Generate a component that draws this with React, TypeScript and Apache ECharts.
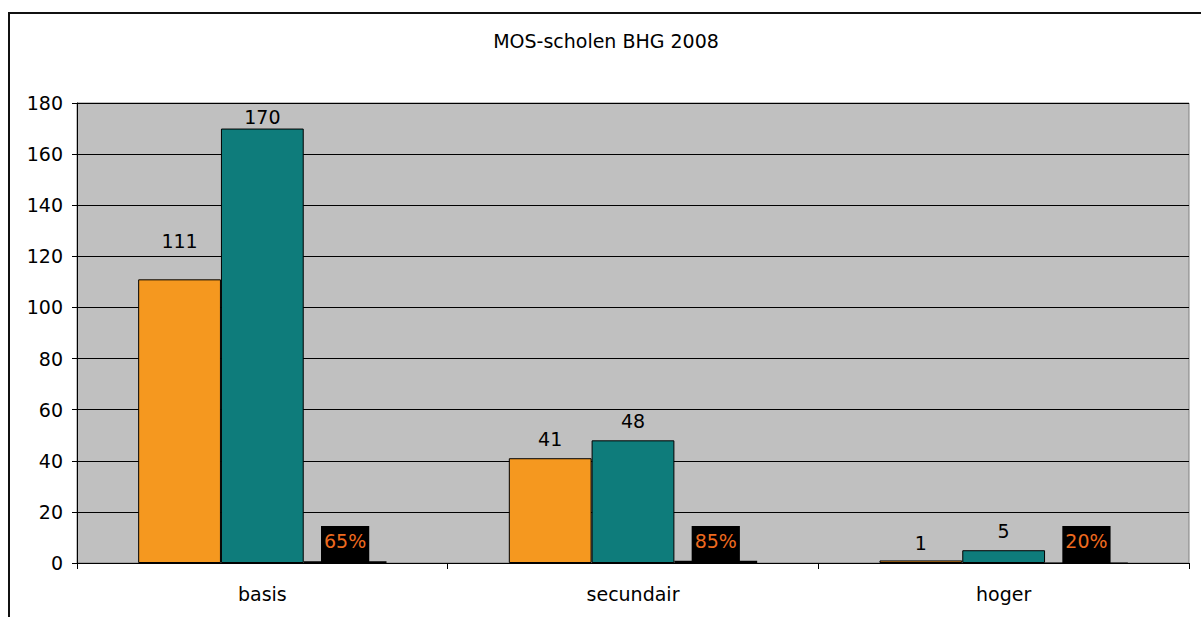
import React, { useEffect, useRef } from "react";
import * as echarts from "echarts";

const categories = ["basis", "secundair", "hoger"];
const orangeValues = [111, 41, 1];
const tealValues = [170, 48, 5];
const shareValues = [0.65, 0.85, 0.2];
const yTicks = { min: 0, max: 180, interval: 20 };
const titleText = "MOS-scholen BHG 2008";

// label distances above bars (styling, not data)
const orangeLabelGap = [29, 10, 8];
const tealLabelGap = [2, 10, 10];

const FONT = "DejaVu Sans";
const FS = 19;

export default function App() {
  const ref = useRef<HTMLDivElement>(null);
  useEffect(() => {
    document.body.style.margin = "0";
    if (!ref.current) return;
    const chart = echarts.init(ref.current, undefined, { renderer: "svg" });
    const labelBase = {
      show: true,
      position: "top",
      color: "#000",
      fontFamily: FONT,
      fontSize: FS,
    };
    chart.setOption({
      animation: false,
      backgroundColor: "#fff",
      textStyle: { fontFamily: FONT },
      title: {
        text: titleText,
        left: 606,
        textAlign: "center",
        top: 31,
        padding: 0,
        textStyle: { fontFamily: FONT, fontSize: FS, fontWeight: "normal", color: "#000" },
      },
      graphic: [
        {
          type: "rect",
          shape: { x: 9, y: 13, width: 1260, height: 700 },
          style: { fill: "none", stroke: "#111", lineWidth: 2 },
          silent: true,
        },
      ],
      grid: {
        left: 77,
        top: 103,
        right: 12,
        bottom: 54,
        show: true,
        backgroundColor: "#C0C0C0",
        borderColor: "#808080",
        borderWidth: 1,
      },
      xAxis: {
        type: "category",
        data: categories,
        boundaryGap: true,
        axisLine: { show: true, lineStyle: { color: "#000", width: 1 } },
        axisTick: { show: true, length: 6, lineStyle: { color: "#000" } },
        axisLabel: { color: "#000", fontFamily: FONT, fontSize: FS, margin: 21 },
        splitLine: { show: false },
      },
      yAxis: {
        type: "value",
        min: yTicks.min,
        max: yTicks.max,
        interval: yTicks.interval,
        axisLine: { show: true, lineStyle: { color: "#000", width: 1 } },
        axisTick: { show: true, length: 5, lineStyle: { color: "#000" } },
        axisLabel: { color: "#000", fontFamily: FONT, fontSize: FS, margin: 14 },
        splitLine: { show: true, lineStyle: { color: "#000", width: 1 } },
      },
      series: [
        {
          type: "bar",
          barGap: "0%",
          barCategoryGap: "33%",
          data: orangeValues.map((v, i) => ({
            value: v,
            label: { distance: orangeLabelGap[i] },
          })),
          itemStyle: { color: "#F5981F", borderColor: "#000", borderWidth: 1 },
          label: labelBase,
        },
        {
          type: "bar",
          barGap: "0%",
          barCategoryGap: "33%",
          data: tealValues.map((v, i) => ({
            value: v,
            label: { distance: tealLabelGap[i] },
          })),
          itemStyle: { color: "#0E7C7B", borderColor: "#000", borderWidth: 1 },
          label: labelBase,
        },
        {
          type: "bar",
          barGap: "0%",
          barCategoryGap: "33%",
          data: shareValues,
          itemStyle: { color: "#000" },
          label: {
            show: true,
            position: "insideBottom",
            distance: 0,
            color: "#EE6A1F",
            fontFamily: FONT,
            fontSize: FS,
            lineHeight: 19,
            backgroundColor: "#000",
            padding: [5, 3, 13, 3],
            formatter: (p: any) => Math.round(p.value * 100) + "%",
          },
        },
      ],
    });
    return () => chart.dispose();
  }, []);
  return (
    <div
      ref={ref}
      style={{ position: "fixed", left: 0, top: 0, width: 1201, height: 617 }}
    />
  );
}
